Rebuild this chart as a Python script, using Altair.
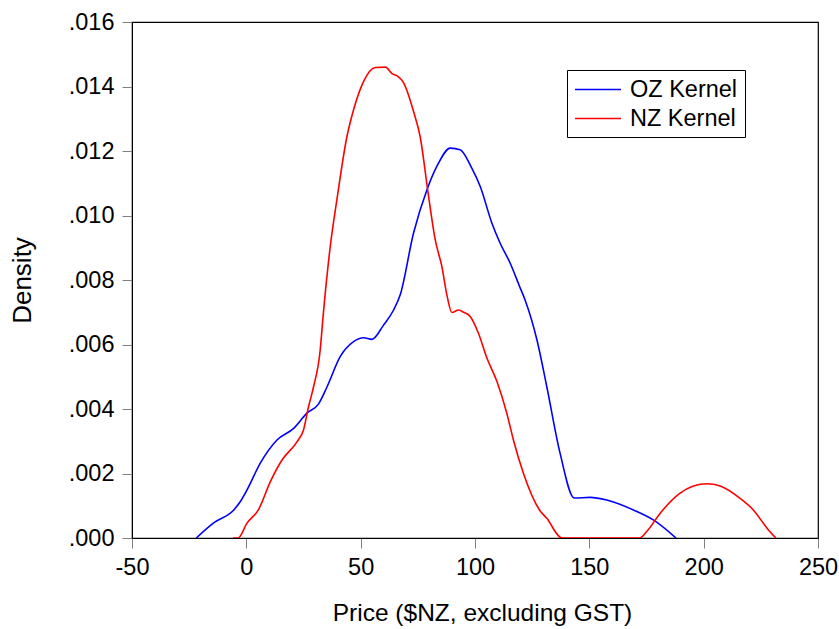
import altair as alt
import pandas as pd

# OZ kernel density (blue)
oz_x = [-21.9, -14.3, -5.5, -2.6, 0.3, 6.1, 13.4, 20.7, 26.5, 31.6, 35.3, 41.1, 46.9, 51.3, 54.9,
        60.0, 64.4, 67.3, 73.1, 79.0, 83.3, 89.2, 93.5, 98.6, 102.3, 107.4, 111.0, 115.4, 119.5,
        121.9, 127.1, 131.4, 137.2, 143.4, 150.3, 157.6, 169.3, 178.0, 187.9]
oz_y = [0.0, 0.00047, 0.00087, 0.00113, 0.00149, 0.00232, 0.00304, 0.0034, 0.00387, 0.00416,
        0.00469, 0.00563, 0.00609, 0.00621, 0.00616, 0.0066, 0.00707, 0.00754, 0.00945, 0.0108,
        0.01152, 0.01209, 0.01204, 0.01147, 0.0109, 0.00976, 0.00914, 0.00852, 0.0078,
        0.00738, 0.00614, 0.00469, 0.00263, 0.00124, 0.00126, 0.00118, 0.00087, 0.00056, 0.0]

# NZ kernel density (red)
nz_x = [-5.8, -3.6, 0.3, 5.4, 10.5, 15.6, 22.2, 25.0, 27.2, 29.4, 32.3, 33.5, 36.7, 39.6, 44.0,
        46.9, 51.3, 56.4, 60.8, 63.7, 65.9, 68.8, 73.1, 76.0, 79.7, 82.6, 85.5, 87.7, 89.9, 92.8,
        95.0, 97.9, 101.5, 105.2, 109.6, 113.9, 116.8, 121.2, 128.2, 131.4, 138.0, 155.0, 171.9,
        175.1, 181.0, 189.7, 195.5, 201.4, 207.2, 215.9, 221.7, 228.3, 231.6]
nz_y = [0.0, 0.0, 0.00046, 0.00089, 0.00175, 0.00242, 0.00299, 0.00335, 0.00407, 0.00469,
        0.00583, 0.00682, 0.00904, 0.01049, 0.01245, 0.01328, 0.01416, 0.01459, 0.0146, 0.0144,
        0.01433, 0.01411, 0.01323, 0.01245, 0.01059, 0.00925, 0.00842, 0.00754, 0.00699, 0.00707,
        0.007, 0.00687, 0.00635, 0.00558, 0.00485, 0.00387, 0.00304, 0.002, 0.00087, 0.00061,
        0.0, 0.0, 0.0, 0.0002, 0.00077, 0.00139, 0.00161, 0.00168, 0.00161, 0.00123, 0.00087,
        0.00025, 0.0]

series_names = ["OZ Kernel", "NZ Kernel"]
series_colors = ["#0000FF", "#FF0000"]
x_ticks = [-50, 0, 50, 100, 150, 200, 250]
y_ticks = [0.0, 0.002, 0.004, 0.006, 0.008, 0.010, 0.012, 0.014, 0.016]

rows = []
for i, (xv, yv) in enumerate(zip(oz_x, oz_y)):
    rows.append({"x": xv, "y": yv, "series": series_names[0], "order": i})
for i, (xv, yv) in enumerate(zip(nz_x, nz_y)):
    rows.append({"x": xv, "y": yv, "series": series_names[1], "order": i})
df = pd.DataFrame(rows)

FONT = "Liberation Sans"

chart = alt.Chart(df).mark_line(strokeWidth=1.6, clip=True, interpolate="monotone").encode(
    x=alt.X("x:Q", title="Price ($NZ, excluding GST)",
            scale=alt.Scale(domain=[-50, 250], nice=False, zero=False),
            axis=alt.Axis(values=x_ticks, grid=False, tickSize=10, tickColor="#808080",
                          domainColor="black", labelPadding=7, titlePadding=23,
                          labelFontSize=23.5, titleFontSize=24.5, labelColor="black",
                          titleColor="black", titleFontWeight="normal", labelFont=FONT,
                          titleFont=FONT, labelFlush=False, titleX=350,
                          labelExpr="datum.value < 0 ? '-' + abs(datum.value) : '' + datum.value")),
    y=alt.Y("y:Q", title="Density",
            scale=alt.Scale(domain=[0, 0.016], nice=False),
            axis=alt.Axis(values=y_ticks, grid=False, tickSize=10, tickColor="#808080",
                          domainColor="black", labelPadding=8, titlePadding=33,
                          labelFontSize=23.5, titleFontSize=26, labelColor="black",
                          titleColor="black", titleFontWeight="normal", labelFont=FONT,
                          titleFont=FONT, labelFlush=False,
                          labelExpr="replace(format(datum.value, '.3f'), '0.', '.')")),
    color=alt.Color("series:N",
                    scale=alt.Scale(domain=series_names, range=series_colors),
                    legend=alt.Legend(title=None, orient="none", legendX=435, legendY=48,
                                      strokeColor="black", fillColor="white",
                                      padding=7, symbolType="M-1,0H3", symbolSize=529,
                                      symbolStrokeWidth=1.6, labelFontSize=23.5, labelFont=FONT,
                                      labelColor="black", rowPadding=5, labelOffset=31,
                                      cornerRadius=0)),
    order="order:Q",
).properties(
    width=686, height=516,
    padding={"left": 132, "top": 22, "right": 21, "bottom": 91},
    autosize=alt.AutoSizeParams(type="none"),
).configure_view(stroke="black", strokeWidth=1.2)

chart.save("out.html", embed_options={"renderer": "svg", "actions": False})
